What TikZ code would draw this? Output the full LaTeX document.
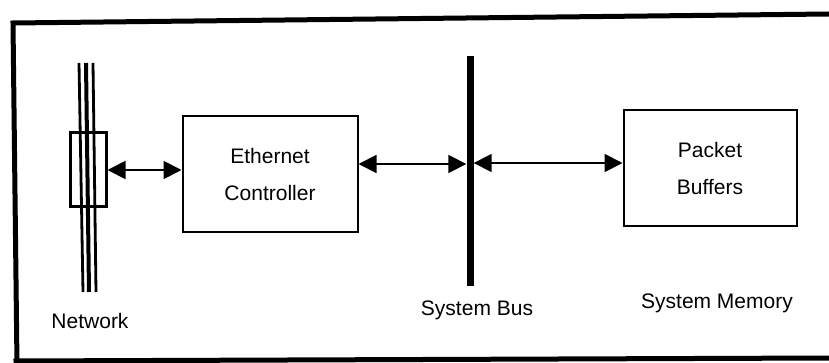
\documentclass[tikz,border=0pt]{standalone}
\usepackage{fontspec}
\setmainfont{Liberation Sans}
\usetikzlibrary{arrows.meta}
\begin{document}
\begin{tikzpicture}[x=1pt,y=-1pt,
  every node/.style={font=\fontsize{21}{37}\selectfont},
  frame/.style={line width=5pt, line cap=rect},
  boxnode/.style={draw, line width=2pt, minimum width=#1, minimum height=116pt, align=center, inner sep=0pt},
  tapbox/.style={draw, line width=3pt, minimum width=36pt, minimum height=74pt, inner sep=0pt},
  busbar/.style={fill=black, minimum width=7pt, minimum height=230pt, inner sep=0pt},
  link/.style={line width=1.8pt, {Triangle[length=18pt,width=18pt]}-{Triangle[length=18pt,width=18pt]}},
  label/.style={anchor=base}
]
\useasboundingbox (0,0) rectangle (829,363);
% outer frame
\coordinate (f1) at (829,14);
\coordinate (f2) at (13,23);
\coordinate (f3) at (17,365);
\coordinate (f4) at (16,361);
\coordinate (f5) at (829,358);
\draw[frame] (f1) -- (f2) -- (f3);
\draw[frame] (f4) -- (f5);
% network cable
\coordinate (n1t) at (79,63);  \coordinate (n1b) at (83,292);
\coordinate (n2t) at (86,63);  \coordinate (n2b) at (89,292);
\coordinate (n3t) at (93,63);  \coordinate (n3b) at (96,292);
\draw[line width=2.8pt] (n1t) -- (n1b);
\draw[line width=4pt] (n2t) -- (n2b);
\draw[line width=2.8pt] (n3t) -- (n3b);
\node[tapbox] (tap) at (88,170) {};
% boxes
\node[boxnode=175pt] (eth) at (270,174) {Ethernet\\Controller};
\node[busbar] (bus) at (470,171) {};
\node[boxnode=173pt] (pkt) at (710,168) {Packet\\Buffers};
% connectors
\draw[link] (tap.east) -- (tap.east -| eth.west);
\draw[link] ([yshift=10pt]eth.east) -- ([yshift=10pt]eth.east -| bus.west);
\draw[link] ([yshift=5pt]pkt.west -| bus.east) -- ([yshift=5pt]pkt.west);
% labels
\node[label] (lnet) at (90,328) {Network};
\node[label] (lbus) at (477,315) {System Bus};
\node[label] (lmem) at (717,308) {System Memory};
\end{tikzpicture}
\end{document}
